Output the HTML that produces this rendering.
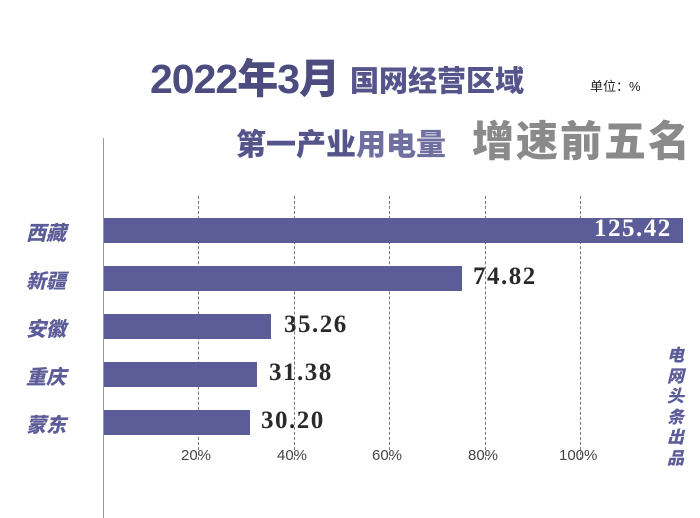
<!DOCTYPE html>
<html><head><meta charset="utf-8"><style>
body{margin:0;width:700px;height:518px;background:#fff;position:relative;overflow:hidden;font-family:"Liberation Sans","Noto Sans CJK SC",sans-serif}
.a{position:absolute;white-space:nowrap}
.bar{position:absolute;left:104px;height:25px;background:#5c5c98}
.grid{position:absolute;top:196px;height:264px;border-left:1px dashed #777}
.lab{position:absolute;left:26px;font-size:20px;font-weight:900;font-style:italic;color:#5c5c98}
.val{position:absolute;font-family:"Liberation Serif",serif;font-weight:bold;font-size:25px;letter-spacing:1.5px;color:#2a2a2a}
.tk{position:absolute;top:447px;font-size:15px;color:#444}
</style></head><body>
<div class="a" style="left:150px;top:45px;font-size:41px;font-weight:900;color:#4c4c80;letter-spacing:-1px">2022年3月</div>
<div class="a" style="left:350px;top:58px;font-size:29px;font-weight:900;color:#55558c">国网经营区域</div>
<div class="a" style="left:590px;top:76px;font-size:13px;color:#222">单位：%</div>
<div class="a" style="left:236px;top:120px;font-size:30px;font-weight:900;color:#55558c">第一产业<span style="color:#7070a0">用电量</span></div>
<div class="a" style="left:472px;top:108px;font-size:42px;font-weight:900;color:#8a8a8a;letter-spacing:2px">增速前五名</div>
<div style="position:absolute;left:103px;top:138px;width:1px;height:380px;background:#999"></div>
<div class="grid" style="left:198px"></div>
<div class="grid" style="left:294px"></div>
<div class="grid" style="left:389px"></div>
<div class="grid" style="left:485px"></div>
<div class="grid" style="left:580px"></div>
<div class="bar" style="top:218px;width:579px"></div>
<div class="bar" style="top:266px;width:358px"></div>
<div class="bar" style="top:314px;width:167px"></div>
<div class="bar" style="top:362px;width:153px"></div>
<div class="bar" style="top:410px;width:146px"></div>
<div class="lab" style="top:217px">西藏</div>
<div class="lab" style="top:265px">新疆</div>
<div class="lab" style="top:313px">安徽</div>
<div class="lab" style="top:361px">重庆</div>
<div class="lab" style="top:409px">蒙东</div>
<div class="val" style="left:594px;top:215px;color:#fff">125.42</div>
<div class="val" style="left:473px;top:263px">74.82</div>
<div class="val" style="left:284px;top:311px">35.26</div>
<div class="val" style="left:269px;top:359px">31.38</div>
<div class="val" style="left:261px;top:407px">30.20</div>
<div class="tk" style="left:181px">20%</div>
<div class="tk" style="left:277px">40%</div>
<div class="tk" style="left:372px">60%</div>
<div class="tk" style="left:468px">80%</div>
<div class="tk" style="left:559px">100%</div>
<div class="a" style="left:667px;top:346px;width:20px;font-size:17px;line-height:20.5px;font-weight:900;font-style:italic;color:#5c5c98;white-space:normal">电网头条出品</div>
</body></html>
